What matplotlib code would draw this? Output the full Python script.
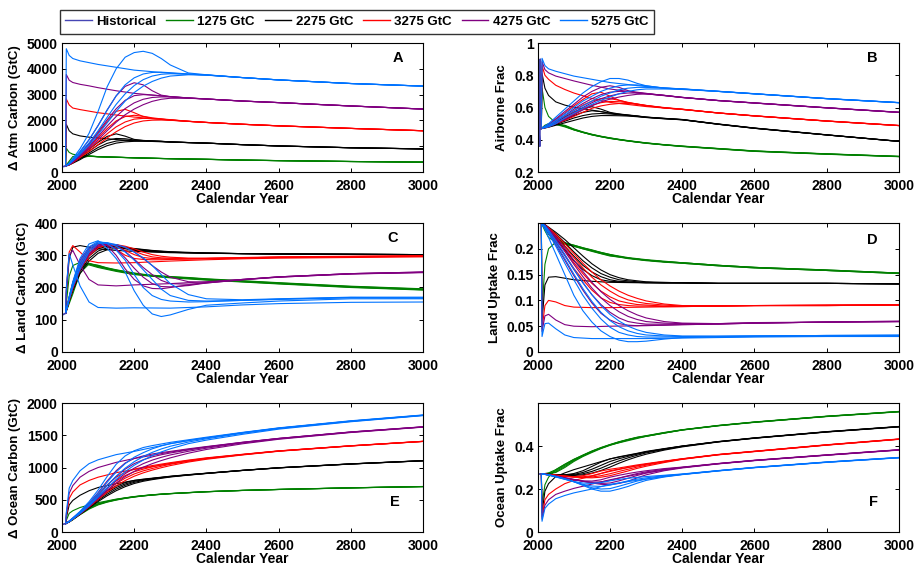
import matplotlib
matplotlib.use('Agg')
import matplotlib.pyplot as plt
from matplotlib.lines import Line2D

plt.rcParams['font.family'] = ['Liberation Sans', 'DejaVu Sans']
plt.rcParams['font.weight'] = 'bold'
plt.rcParams['font.size'] = 10
plt.rcParams['axes.labelweight'] = 'bold'

# ---------------- data ----------------
TOTALS = [1275, 2275, 3275, 4275, 5275]
LABELS = ['Historical', '1275 GtC', '2275 GtC', '3275 GtC', '4275 GtC', '5275 GtC']
COLORS = {1275: '#008000', 2275: '#000000', 3275: '#ff0000', 4275: '#800080', 5275: '#0073ff'}
HIST_COLOR = '#4646b4'

HIST_YEARS = [2000, 2003, 2006, 2007, 2008, 2010]
PULSE_YEARS = [2010, 2012, 2020, 2030, 2050, 2075, 2100, 2150, 2200, 2300, 2400, 2500, 2600, 2800, 3000]
RAMP_YEARS = [2010, 2020, 2030, 2050, 2075, 2100, 2125, 2150, 2175, 2200, 2225, 2250, 2275, 2300,
              2350, 2400, 2500, 2600, 2800, 3000]

# Panel A: change in atmospheric carbon (GtC)
HIST_ATM = [200, 210, 218, 221, 224, 230]
ATM_PULSE = {
    1275: [230, 920, 760, 690, 640, 610, 590, 570, 550, 515, 490, 460, 440, 405, 380],
    2275: [230, 1850, 1600, 1480, 1400, 1350, 1320, 1260, 1210, 1160, 1120, 1060, 1010, 940, 895],
    3275: [230, 2830, 2600, 2480, 2420, 2360, 2300, 2210, 2130, 2010, 1920, 1850, 1790, 1690, 1600],
    4275: [230, 3780, 3560, 3470, 3400, 3340, 3270, 3150, 3050, 2920, 2830, 2750, 2690, 2560, 2440],
    5275: [230, 4780, 4520, 4400, 4310, 4240, 4170, 4060, 3950, 3830, 3760, 3660, 3570, 3430, 3330],
}
ATM_RAMPS = {
    1275: [[230, 420, 600, 650, 615, 592, 580, 571, 561, 551, 541, 532, 523, 516, 502, 491, 462, 441, 407, 382],
           [230, 370, 500, 655, 618, 594, 582, 572, 562, 552, 542, 533, 524, 517, 503, 492, 463, 442, 408, 383],
           [230, 340, 440, 595, 620, 597, 584, 574, 563, 553, 543, 534, 525, 518, 504, 493, 463, 442, 408, 383],
           [230, 320, 400, 540, 615, 598, 586, 575, 564, 554, 544, 535, 526, 519, 505, 494, 464, 443, 409, 384]],
    2275: [[230, 300, 400, 600, 880, 1150, 1380, 1480, 1390, 1265, 1225, 1205, 1190, 1170, 1143, 1122, 1062, 1012, 942, 897],
           [230, 290, 380, 560, 810, 1050, 1230, 1300, 1290, 1242, 1220, 1205, 1190, 1168, 1142, 1121, 1061, 1011, 941, 896],
           [230, 280, 360, 520, 740, 950, 1110, 1200, 1230, 1225, 1212, 1202, 1187, 1166, 1141, 1120, 1060, 1010, 940, 895],
           [230, 275, 340, 480, 680, 870, 1020, 1120, 1170, 1190, 1195, 1193, 1183, 1164, 1140, 1119, 1060, 1010, 940, 895]],
    3275: [[230, 310, 420, 700, 1080, 1500, 1950, 2350, 2430, 2300, 2150, 2080, 2050, 2020, 1965, 1922, 1852, 1792, 1692, 1602],
           [230, 300, 400, 640, 960, 1320, 1680, 1980, 2150, 2200, 2160, 2100, 2060, 2030, 1968, 1923, 1852, 1791, 1691, 1601],
           [230, 290, 380, 600, 880, 1180, 1480, 1750, 1940, 2050, 2080, 2070, 2050, 2020, 1966, 1922, 1851, 1790, 1690, 1600],
           [230, 280, 360, 560, 800, 1060, 1320, 1560, 1760, 1900, 1980, 2010, 2015, 2005, 1962, 1921, 1850, 1790, 1690, 1600]],
    4275: [[230, 320, 450, 780, 1250, 1800, 2400, 2950, 3320, 3460, 3380, 3150, 2980, 2925, 2870, 2832, 2752, 2692, 2562, 2442],
           [230, 305, 420, 700, 1100, 1550, 2020, 2450, 2780, 2960, 3000, 2980, 2950, 2920, 2868, 2831, 2751, 2691, 2561, 2441],
           [230, 295, 400, 650, 1000, 1380, 1780, 2150, 2460, 2680, 2820, 2890, 2910, 2910, 2866, 2830, 2750, 2690, 2560, 2440],
           [230, 285, 380, 610, 920, 1250, 1600, 1930, 2220, 2440, 2610, 2740, 2820, 2860, 2860, 2829, 2750, 2690, 2560, 2440]],
    5275: [[230, 350, 520, 900, 1500, 2350, 3300, 4000, 4450, 4630, 4680, 4600, 4400, 4150, 3840, 3770, 3662, 3572, 3432, 3332],
           [230, 330, 480, 800, 1250, 1800, 2400, 2950, 3380, 3650, 3800, 3860, 3870, 3850, 3800, 3765, 3661, 3571, 3431, 3331],
           [230, 315, 450, 740, 1130, 1600, 2120, 2620, 3030, 3350, 3580, 3720, 3790, 3810, 3790, 3760, 3660, 3570, 3430, 3330],
           [230, 305, 430, 690, 1040, 1450, 1900, 2350, 2750, 3080, 3330, 3510, 3640, 3720, 3770, 3755, 3660, 3570, 3430, 3330]],
}

# Panel B: airborne fraction
HIST_AF = [0.47, 0.47, 0.36, 0.90, 0.47, 0.47]
AF_PULSE = {
    1275: [0.47, 0.72, 0.60, 0.545, 0.505, 0.485, 0.462, 0.43, 0.408, 0.378, 0.358, 0.343, 0.328, 0.31, 0.295],
    2275: [0.47, 0.81, 0.72, 0.675, 0.635, 0.615, 0.602, 0.584, 0.565, 0.54, 0.525, 0.497, 0.472, 0.43, 0.39],
    3275: [0.47, 0.86, 0.80, 0.775, 0.738, 0.712, 0.69, 0.656, 0.632, 0.606, 0.588, 0.566, 0.548, 0.516, 0.488],
    4275: [0.47, 0.885, 0.835, 0.815, 0.795, 0.78, 0.765, 0.738, 0.715, 0.685, 0.662, 0.643, 0.628, 0.598, 0.57],
    5275: [0.47, 0.905, 0.86, 0.84, 0.825, 0.81, 0.795, 0.775, 0.755, 0.73, 0.715, 0.70, 0.685, 0.655, 0.63],
}
AF_RAMPS = {
    1275: [[0.47, 0.49, 0.50, 0.495, 0.48, 0.461, 0.445, 0.431, 0.419, 0.409, 0.4, 0.392, 0.385, 0.379, 0.368, 0.359, 0.344, 0.329, 0.311, 0.296],
           [0.47, 0.485, 0.495, 0.50, 0.484, 0.463, 0.446, 0.432, 0.42, 0.41, 0.401, 0.393, 0.386, 0.38, 0.369, 0.36, 0.345, 0.33, 0.312, 0.296],
           [0.47, 0.48, 0.49, 0.50, 0.487, 0.465, 0.447, 0.433, 0.421, 0.411, 0.402, 0.394, 0.387, 0.38, 0.369, 0.36, 0.345, 0.33, 0.312, 0.297],
           [0.47, 0.478, 0.485, 0.495, 0.49, 0.467, 0.449, 0.434, 0.422, 0.412, 0.403, 0.395, 0.388, 0.381, 0.37, 0.361, 0.346, 0.331, 0.313, 0.297]],
    2275: [[0.47, 0.48, 0.49, 0.51, 0.54, 0.57, 0.595, 0.605, 0.59, 0.57, 0.56, 0.554, 0.548, 0.541, 0.533, 0.526, 0.498, 0.473, 0.431, 0.391],
           [0.47, 0.477, 0.485, 0.50, 0.525, 0.55, 0.57, 0.58, 0.575, 0.565, 0.558, 0.552, 0.547, 0.54, 0.532, 0.525, 0.497, 0.472, 0.43, 0.39],
           [0.47, 0.475, 0.48, 0.495, 0.515, 0.535, 0.55, 0.56, 0.563, 0.56, 0.555, 0.55, 0.545, 0.539, 0.531, 0.524, 0.496, 0.471, 0.43, 0.39],
           [0.47, 0.473, 0.478, 0.49, 0.505, 0.52, 0.535, 0.545, 0.55, 0.55, 0.549, 0.547, 0.543, 0.538, 0.53, 0.524, 0.496, 0.471, 0.43, 0.39]],
    3275: [[0.47, 0.482, 0.495, 0.525, 0.565, 0.61, 0.65, 0.685, 0.695, 0.67, 0.645, 0.63, 0.62, 0.61, 0.598, 0.589, 0.567, 0.549, 0.517, 0.489],
           [0.47, 0.48, 0.49, 0.515, 0.545, 0.58, 0.615, 0.64, 0.655, 0.655, 0.645, 0.632, 0.622, 0.612, 0.598, 0.589, 0.566, 0.548, 0.516, 0.488],
           [0.47, 0.477, 0.485, 0.505, 0.53, 0.56, 0.59, 0.615, 0.63, 0.638, 0.636, 0.63, 0.622, 0.613, 0.598, 0.588, 0.566, 0.548, 0.516, 0.488],
           [0.47, 0.475, 0.48, 0.50, 0.52, 0.545, 0.57, 0.595, 0.61, 0.62, 0.625, 0.625, 0.62, 0.613, 0.6, 0.59, 0.566, 0.548, 0.516, 0.488]],
    4275: [[0.47, 0.483, 0.495, 0.53, 0.575, 0.62, 0.665, 0.70, 0.725, 0.735, 0.725, 0.705, 0.69, 0.685, 0.675, 0.663, 0.644, 0.629, 0.599, 0.571],
           [0.47, 0.48, 0.49, 0.515, 0.55, 0.59, 0.625, 0.655, 0.68, 0.695, 0.70, 0.70, 0.695, 0.688, 0.675, 0.663, 0.643, 0.628, 0.598, 0.57],
           [0.47, 0.477, 0.485, 0.505, 0.535, 0.57, 0.60, 0.63, 0.655, 0.672, 0.685, 0.69, 0.69, 0.687, 0.675, 0.662, 0.643, 0.628, 0.598, 0.57],
           [0.47, 0.475, 0.48, 0.50, 0.525, 0.555, 0.585, 0.61, 0.635, 0.652, 0.665, 0.675, 0.682, 0.684, 0.676, 0.663, 0.643, 0.628, 0.598, 0.57]],
    5275: [[0.47, 0.485, 0.50, 0.54, 0.59, 0.64, 0.69, 0.73, 0.76, 0.78, 0.78, 0.77, 0.75, 0.735, 0.72, 0.716, 0.701, 0.686, 0.656, 0.631],
           [0.47, 0.48, 0.49, 0.52, 0.56, 0.60, 0.64, 0.67, 0.70, 0.72, 0.735, 0.74, 0.74, 0.735, 0.72, 0.715, 0.70, 0.685, 0.655, 0.63],
           [0.47, 0.478, 0.485, 0.51, 0.55, 0.58, 0.61, 0.64, 0.67, 0.69, 0.71, 0.72, 0.725, 0.725, 0.72, 0.714, 0.70, 0.685, 0.655, 0.63],
           [0.47, 0.475, 0.48, 0.50, 0.535, 0.565, 0.595, 0.62, 0.645, 0.665, 0.685, 0.70, 0.71, 0.715, 0.715, 0.712, 0.70, 0.685, 0.655, 0.63]],
}

# Panel C: change in land carbon (GtC)
HIST_LAND = [115, 116, 118, 118, 119, 120]
LAND_PULSE = {
    1275: [120, 150, 235, 268, 278, 270, 262, 250, 240, 230, 223, 217, 211, 200, 192],
    2275: [120, 180, 290, 325, 330, 325, 320, 315, 312, 308, 306, 305, 304, 303, 302],
    3275: [120, 190, 310, 330, 310, 283, 277, 276, 277, 282, 286, 289, 291, 293, 295],
    4275: [120, 190, 300, 315, 270, 225, 208, 205, 208, 212, 218, 225, 232, 242, 246],
    5275: [120, 200, 305, 270, 205, 155, 138, 136, 137, 136, 140, 146, 150, 154, 155],
}
LAND_RAMPS = {
    1275: [[120, 170, 215, 275, 272, 264, 258, 252, 247, 242, 238, 235, 233, 231, 228, 224, 218, 212, 201, 193],
           [120, 160, 200, 265, 274, 266, 259, 253, 248, 243, 239, 236, 234, 232, 229, 225, 219, 213, 202, 194],
           [120, 155, 190, 255, 275, 268, 260, 254, 249, 244, 240, 237, 235, 233, 230, 226, 220, 214, 203, 195],
           [120, 150, 180, 245, 273, 269, 261, 255, 250, 245, 241, 238, 236, 234, 231, 227, 221, 215, 204, 196]],
    2275: [[120, 165, 205, 265, 305, 325, 330, 327, 320, 315, 313, 311, 310, 309, 308, 306, 305, 304, 303, 302],
           [120, 162, 200, 258, 298, 320, 328, 328, 323, 318, 315, 312, 311, 309, 308, 307, 305, 304, 303, 302],
           [120, 160, 195, 250, 290, 313, 323, 326, 324, 320, 317, 314, 312, 310, 308, 307, 305, 304, 303, 302],
           [120, 158, 190, 243, 282, 306, 317, 322, 323, 321, 318, 315, 313, 311, 309, 307, 305, 304, 303, 302]],
    3275: [[120, 168, 210, 280, 320, 335, 332, 318, 300, 290, 287, 286, 286, 287, 288, 289, 291, 293, 295, 297],
           [120, 165, 205, 270, 313, 332, 335, 328, 315, 302, 293, 290, 289, 289, 289, 290, 292, 294, 296, 297],
           [120, 162, 200, 262, 305, 328, 334, 332, 324, 313, 302, 295, 292, 291, 290, 290, 292, 294, 296, 298],
           [120, 160, 196, 255, 298, 323, 332, 333, 328, 320, 310, 302, 297, 294, 291, 291, 293, 295, 297, 299]],
    4275: [[120, 170, 215, 285, 325, 338, 330, 300, 258, 225, 205, 197, 196, 200, 208, 215, 225, 233, 243, 247],
           [120, 167, 210, 275, 318, 335, 335, 320, 292, 260, 232, 212, 203, 202, 206, 214, 224, 232, 242, 247],
           [120, 164, 205, 265, 310, 332, 336, 330, 312, 288, 262, 240, 222, 212, 210, 214, 224, 233, 243, 248],
           [120, 162, 200, 255, 302, 328, 335, 333, 325, 310, 290, 268, 248, 232, 218, 216, 225, 233, 243, 248]],
    5275: [[120, 172, 218, 290, 335, 345, 322, 290, 248, 190, 145, 118, 110, 115, 132, 145, 152, 158, 165, 165],
           [120, 169, 212, 278, 326, 343, 336, 316, 285, 240, 200, 175, 163, 158, 155, 156, 160, 163, 168, 167],
           [120, 166, 207, 268, 318, 341, 339, 328, 310, 285, 255, 225, 195, 175, 160, 158, 160, 164, 169, 168],
           [120, 163, 202, 258, 310, 336, 339, 333, 325, 310, 292, 268, 240, 212, 178, 165, 162, 165, 170, 170]],
}

# Panel D: land uptake fraction
HIST_LF = [0.25, 0.25, 0.25, 0.25, 0.25, 0.25]
LF_PULSE = {
    1275: [0.25, 0.08, 0.17, 0.2, 0.213, 0.21, 0.205, 0.195, 0.186, 0.178, 0.172, 0.167, 0.163, 0.158, 0.152],
    2275: [0.25, 0.06, 0.13, 0.145, 0.146, 0.143, 0.14, 0.137, 0.135, 0.134, 0.134, 0.133, 0.133, 0.133, 0.132],
    3275: [0.25, 0.045, 0.09, 0.1, 0.097, 0.09, 0.087, 0.086, 0.086, 0.087, 0.088, 0.089, 0.09, 0.09, 0.091],
    4275: [0.25, 0.04, 0.07, 0.073, 0.062, 0.053, 0.05, 0.049, 0.05, 0.051, 0.053, 0.054, 0.056, 0.058, 0.059],
    5275: [0.25, 0.03, 0.055, 0.056, 0.045, 0.033, 0.028, 0.026, 0.026, 0.026, 0.027, 0.028, 0.029, 0.03, 0.03],
}
LF_RAMPS = {
    1275: [[0.25, 0.235, 0.222, 0.213, 0.209, 0.205, 0.2, 0.196, 0.191, 0.187, 0.184, 0.181, 0.179, 0.177, 0.174, 0.172, 0.167, 0.163, 0.158, 0.152],
           [0.25, 0.24, 0.228, 0.215, 0.21, 0.206, 0.201, 0.197, 0.192, 0.188, 0.185, 0.182, 0.18, 0.178, 0.175, 0.173, 0.168, 0.164, 0.158, 0.153],
           [0.25, 0.242, 0.232, 0.218, 0.211, 0.207, 0.202, 0.197, 0.193, 0.189, 0.185, 0.182, 0.18, 0.178, 0.175, 0.173, 0.168, 0.164, 0.159, 0.153],
           [0.25, 0.244, 0.235, 0.22, 0.212, 0.207, 0.202, 0.198, 0.193, 0.189, 0.186, 0.183, 0.181, 0.179, 0.176, 0.173, 0.168, 0.164, 0.159, 0.153]],
    2275: [[0.25, 0.243, 0.235, 0.22, 0.198, 0.177, 0.16, 0.148, 0.14, 0.137, 0.136, 0.135, 0.135, 0.134, 0.134, 0.134, 0.133, 0.133, 0.133, 0.132],
           [0.25, 0.245, 0.238, 0.225, 0.205, 0.186, 0.168, 0.155, 0.146, 0.14, 0.137, 0.136, 0.135, 0.135, 0.134, 0.134, 0.133, 0.133, 0.133, 0.132],
           [0.25, 0.246, 0.24, 0.229, 0.212, 0.194, 0.177, 0.163, 0.152, 0.145, 0.14, 0.138, 0.136, 0.135, 0.134, 0.134, 0.133, 0.133, 0.133, 0.132],
           [0.25, 0.247, 0.242, 0.232, 0.218, 0.202, 0.186, 0.171, 0.159, 0.15, 0.144, 0.14, 0.138, 0.136, 0.135, 0.134, 0.133, 0.133, 0.133, 0.132]],
    3275: [[0.25, 0.242, 0.232, 0.213, 0.188, 0.162, 0.14, 0.12, 0.105, 0.096, 0.092, 0.09, 0.089, 0.089, 0.088, 0.088, 0.089, 0.09, 0.09, 0.091],
           [0.25, 0.244, 0.236, 0.219, 0.196, 0.173, 0.152, 0.133, 0.118, 0.107, 0.099, 0.095, 0.092, 0.091, 0.089, 0.089, 0.089, 0.09, 0.09, 0.091],
           [0.25, 0.245, 0.239, 0.224, 0.204, 0.183, 0.163, 0.145, 0.13, 0.118, 0.108, 0.101, 0.097, 0.094, 0.091, 0.089, 0.089, 0.09, 0.091, 0.091],
           [0.25, 0.246, 0.241, 0.228, 0.21, 0.191, 0.172, 0.155, 0.14, 0.128, 0.118, 0.11, 0.104, 0.099, 0.093, 0.09, 0.09, 0.09, 0.091, 0.092]],
    4275: [[0.25, 0.242, 0.23, 0.208, 0.178, 0.148, 0.12, 0.095, 0.075, 0.062, 0.055, 0.052, 0.051, 0.052, 0.052, 0.053, 0.054, 0.056, 0.058, 0.059],
           [0.25, 0.244, 0.234, 0.214, 0.187, 0.16, 0.134, 0.111, 0.092, 0.077, 0.066, 0.059, 0.056, 0.054, 0.054, 0.054, 0.055, 0.056, 0.058, 0.059],
           [0.25, 0.245, 0.237, 0.219, 0.195, 0.17, 0.146, 0.124, 0.105, 0.09, 0.078, 0.069, 0.063, 0.059, 0.056, 0.055, 0.055, 0.056, 0.058, 0.059],
           [0.25, 0.246, 0.239, 0.223, 0.201, 0.178, 0.156, 0.135, 0.117, 0.102, 0.09, 0.08, 0.072, 0.066, 0.059, 0.056, 0.055, 0.057, 0.058, 0.06]],
    5275: [[0.25, 0.238, 0.222, 0.19, 0.15, 0.11, 0.08, 0.058, 0.041, 0.03, 0.023, 0.02, 0.02, 0.021, 0.025, 0.028, 0.029, 0.03, 0.031, 0.031],
           [0.25, 0.242, 0.23, 0.205, 0.172, 0.14, 0.11, 0.085, 0.064, 0.048, 0.038, 0.033, 0.03, 0.029, 0.029, 0.029, 0.03, 0.031, 0.032, 0.032],
           [0.25, 0.244, 0.233, 0.211, 0.181, 0.151, 0.123, 0.098, 0.077, 0.061, 0.049, 0.041, 0.036, 0.033, 0.031, 0.03, 0.03, 0.031, 0.032, 0.032],
           [0.25, 0.245, 0.236, 0.216, 0.189, 0.161, 0.135, 0.111, 0.09, 0.073, 0.06, 0.05, 0.043, 0.038, 0.033, 0.031, 0.031, 0.031, 0.032, 0.033]],
}

# Panel E: change in ocean carbon (GtC)
HIST_OCEAN = [118, 121, 125, 126, 127, 130]
OCEAN_PULSE = {
    1275: [130, 180, 290, 330, 380, 420, 455, 510, 550, 595, 625, 645, 660, 685, 705],
    2275: [130, 220, 420, 490, 570, 640, 690, 750, 800, 860, 910, 955, 995, 1055, 1105],
    3275: [130, 250, 520, 620, 730, 800, 850, 920, 970, 1060, 1140, 1200, 1255, 1335, 1405],
    4275: [130, 280, 600, 720, 850, 940, 1000, 1080, 1140, 1240, 1320, 1390, 1450, 1550, 1630],
    5275: [130, 300, 680, 800, 950, 1060, 1120, 1200, 1250, 1370, 1460, 1540, 1610, 1720, 1810],
}
OCEAN_RAMPS = {
    1275: [[130, 160, 205, 300, 385, 440, 475, 505, 528, 548, 565, 578, 588, 597, 612, 626, 646, 661, 686, 706],
           [130, 158, 198, 285, 375, 435, 472, 502, 526, 546, 563, 577, 587, 596, 611, 625, 645, 660, 685, 705],
           [130, 156, 193, 275, 365, 428, 468, 499, 524, 544, 561, 575, 586, 595, 610, 625, 645, 660, 685, 705],
           [130, 155, 190, 268, 355, 420, 463, 495, 521, 542, 559, 574, 585, 594, 609, 624, 644, 659, 684, 704]],
    2275: [[130, 165, 208, 295, 410, 535, 640, 715, 765, 800, 820, 835, 850, 865, 890, 912, 957, 997, 1057, 1107],
           [130, 162, 203, 287, 395, 510, 610, 690, 745, 785, 810, 830, 846, 862, 888, 911, 956, 996, 1056, 1106],
           [130, 160, 200, 280, 383, 490, 585, 665, 725, 770, 800, 822, 840, 858, 885, 909, 955, 995, 1055, 1105],
           [130, 158, 196, 274, 372, 472, 562, 640, 703, 752, 787, 812, 833, 853, 882, 907, 954, 994, 1054, 1104]],
    3275: [[130, 168, 212, 305, 435, 580, 730, 850, 925, 975, 1005, 1030, 1053, 1075, 1115, 1150, 1205, 1258, 1338, 1407],
           [130, 164, 206, 295, 415, 550, 680, 790, 875, 935, 975, 1010, 1040, 1065, 1108, 1145, 1203, 1257, 1337, 1406],
           [130, 161, 202, 287, 400, 525, 645, 750, 835, 900, 948, 985, 1020, 1050, 1098, 1138, 1200, 1255, 1336, 1405],
           [130, 159, 198, 280, 388, 505, 617, 715, 798, 865, 917, 960, 997, 1030, 1085, 1128, 1195, 1252, 1334, 1404]],
    4275: [[130, 170, 215, 310, 450, 610, 790, 950, 1070, 1140, 1180, 1210, 1232, 1250, 1290, 1325, 1392, 1452, 1552, 1632],
           [130, 165, 208, 298, 425, 570, 720, 860, 975, 1060, 1120, 1165, 1198, 1225, 1272, 1315, 1388, 1450, 1550, 1630],
           [130, 162, 203, 290, 408, 540, 675, 800, 905, 990, 1060, 1115, 1158, 1195, 1252, 1300, 1380, 1445, 1547, 1628],
           [130, 160, 199, 283, 395, 520, 645, 760, 860, 940, 1005, 1060, 1108, 1150, 1222, 1280, 1368, 1438, 1543, 1626]],
    5275: [[130, 170, 220, 320, 470, 650, 860, 1050, 1180, 1260, 1310, 1340, 1365, 1390, 1430, 1470, 1545, 1615, 1725, 1815],
           [130, 165, 210, 305, 440, 600, 770, 930, 1060, 1160, 1230, 1290, 1335, 1370, 1420, 1460, 1540, 1610, 1720, 1812],
           [130, 162, 205, 295, 420, 565, 720, 865, 990, 1090, 1170, 1235, 1288, 1330, 1395, 1445, 1530, 1605, 1715, 1808],
           [130, 160, 200, 288, 405, 540, 680, 815, 935, 1035, 1115, 1185, 1242, 1290, 1370, 1425, 1515, 1595, 1710, 1805]],
}

# Panel F: ocean uptake fraction
HIST_OF = [0.27, 0.27, 0.27, 0.27, 0.27, 0.27]
OF_PULSE = {
    1275: [0.27, 0.13, 0.22, 0.255, 0.29, 0.315, 0.338, 0.375, 0.405, 0.445, 0.475, 0.495, 0.511, 0.538, 0.56],
    2275: [0.27, 0.09, 0.19, 0.225, 0.258, 0.275, 0.29, 0.315, 0.34, 0.373, 0.4, 0.42, 0.437, 0.466, 0.49],
    3275: [0.27, 0.07, 0.15, 0.175, 0.2, 0.225, 0.24, 0.26, 0.285, 0.316, 0.34, 0.36, 0.375, 0.405, 0.432],
    4275: [0.27, 0.06, 0.125, 0.15, 0.175, 0.19, 0.203, 0.223, 0.243, 0.276, 0.3, 0.318, 0.333, 0.358, 0.382],
    5275: [0.27, 0.05, 0.11, 0.13, 0.155, 0.17, 0.182, 0.2, 0.222, 0.247, 0.268, 0.285, 0.3, 0.325, 0.346],
}
OF_RAMPS = {
    1275: [[0.27, 0.272, 0.275, 0.29, 0.315, 0.338, 0.358, 0.377, 0.393, 0.407, 0.42, 0.431, 0.441, 0.448, 0.463, 0.476, 0.496, 0.512, 0.539, 0.561],
           [0.27, 0.271, 0.273, 0.285, 0.31, 0.335, 0.356, 0.375, 0.392, 0.406, 0.419, 0.43, 0.44, 0.447, 0.462, 0.475, 0.495, 0.511, 0.538, 0.56],
           [0.27, 0.27, 0.272, 0.28, 0.305, 0.332, 0.354, 0.373, 0.39, 0.405, 0.418, 0.429, 0.439, 0.446, 0.461, 0.475, 0.495, 0.511, 0.538, 0.56],
           [0.27, 0.27, 0.271, 0.277, 0.30, 0.328, 0.351, 0.37, 0.388, 0.403, 0.416, 0.428, 0.438, 0.445, 0.46, 0.474, 0.494, 0.51, 0.537, 0.559]],
    2275: [[0.27, 0.268, 0.267, 0.265, 0.266, 0.272, 0.285, 0.305, 0.325, 0.34, 0.35, 0.358, 0.366, 0.375, 0.388, 0.4, 0.421, 0.438, 0.467, 0.491],
           [0.27, 0.269, 0.268, 0.266, 0.265, 0.268, 0.277, 0.292, 0.31, 0.328, 0.341, 0.352, 0.362, 0.372, 0.386, 0.399, 0.42, 0.437, 0.466, 0.49],
           [0.27, 0.269, 0.268, 0.266, 0.264, 0.265, 0.271, 0.282, 0.297, 0.315, 0.331, 0.345, 0.357, 0.368, 0.384, 0.398, 0.42, 0.437, 0.466, 0.49],
           [0.27, 0.27, 0.269, 0.267, 0.264, 0.263, 0.266, 0.274, 0.286, 0.302, 0.32, 0.336, 0.35, 0.362, 0.381, 0.396, 0.419, 0.436, 0.465, 0.489]],
    3275: [[0.27, 0.268, 0.266, 0.262, 0.258, 0.257, 0.262, 0.272, 0.284, 0.292, 0.298, 0.305, 0.312, 0.318, 0.33, 0.341, 0.361, 0.376, 0.406, 0.433],
           [0.27, 0.269, 0.267, 0.263, 0.259, 0.256, 0.257, 0.262, 0.272, 0.282, 0.291, 0.3, 0.308, 0.315, 0.328, 0.34, 0.36, 0.375, 0.405, 0.432],
           [0.27, 0.269, 0.267, 0.264, 0.26, 0.256, 0.254, 0.256, 0.262, 0.271, 0.282, 0.292, 0.302, 0.311, 0.326, 0.339, 0.36, 0.375, 0.405, 0.432],
           [0.27, 0.27, 0.268, 0.265, 0.261, 0.257, 0.253, 0.252, 0.255, 0.262, 0.273, 0.284, 0.296, 0.306, 0.323, 0.338, 0.359, 0.374, 0.404, 0.431]],
    4275: [[0.27, 0.268, 0.265, 0.258, 0.25, 0.243, 0.238, 0.237, 0.243, 0.255, 0.264, 0.272, 0.279, 0.285, 0.295, 0.302, 0.319, 0.334, 0.359, 0.383],
           [0.27, 0.268, 0.266, 0.259, 0.251, 0.243, 0.236, 0.232, 0.233, 0.24, 0.251, 0.262, 0.272, 0.28, 0.292, 0.301, 0.318, 0.333, 0.358, 0.382],
           [0.27, 0.269, 0.266, 0.26, 0.252, 0.244, 0.236, 0.229, 0.226, 0.228, 0.238, 0.25, 0.263, 0.274, 0.289, 0.3, 0.318, 0.333, 0.358, 0.382],
           [0.27, 0.269, 0.267, 0.261, 0.253, 0.245, 0.236, 0.228, 0.222, 0.22, 0.226, 0.236, 0.252, 0.266, 0.285, 0.298, 0.317, 0.332, 0.357, 0.381]],
    5275: [[0.27, 0.268, 0.265, 0.256, 0.245, 0.235, 0.228, 0.226, 0.23, 0.238, 0.245, 0.25, 0.254, 0.258, 0.264, 0.27, 0.286, 0.301, 0.326, 0.347],
           [0.27, 0.268, 0.265, 0.257, 0.246, 0.234, 0.222, 0.214, 0.212, 0.218, 0.228, 0.238, 0.246, 0.252, 0.262, 0.269, 0.285, 0.3, 0.325, 0.346],
           [0.27, 0.269, 0.266, 0.258, 0.247, 0.234, 0.219, 0.206, 0.2, 0.202, 0.213, 0.225, 0.237, 0.246, 0.259, 0.268, 0.285, 0.3, 0.325, 0.346],
           [0.27, 0.269, 0.266, 0.259, 0.248, 0.234, 0.217, 0.2, 0.19, 0.19, 0.2, 0.212, 0.227, 0.24, 0.256, 0.267, 0.284, 0.299, 0.324, 0.345]],
}

XTICKS = [2000, 2200, 2400, 2600, 2800, 3000]

PANELS = [
    dict(letter='A', hist=HIST_ATM, pulse=ATM_PULSE, ramps=ATM_RAMPS, ylim=(0, 5000),
         yticks=[0, 1000, 2000, 3000, 4000, 5000], yticklabels=['0', '1000', '2000', '3000', '4000', '5000'],
         ylabel='\u0394 Atm Carbon (GtC)', pos=[0.0678, 0.695, 0.395, 0.2287], lpos=(0.93, 0.885)),
    dict(letter='B', hist=HIST_AF, pulse=AF_PULSE, ramps=AF_RAMPS, ylim=(0.2, 1.0),
         yticks=[0.2, 0.4, 0.6, 0.8, 1.0], yticklabels=['0.2', '0.4', '0.6', '0.8', '1'],
         ylabel='Airborne Frac', pos=[0.5883, 0.695, 0.3953, 0.2287], lpos=(0.926, 0.885)),
    dict(letter='C', hist=HIST_LAND, pulse=LAND_PULSE, ramps=LAND_RAMPS, ylim=(0, 400),
         yticks=[0, 100, 200, 300, 400], yticklabels=['0', '100', '200', '300', '400'],
         ylabel='\u0394 Land Carbon (GtC)', pos=[0.0678, 0.3759, 0.395, 0.2287], lpos=(0.917, 0.88)),
    dict(letter='D', hist=HIST_LF, pulse=LF_PULSE, ramps=LF_RAMPS, ylim=(0, 0.25),
         yticks=[0, 0.05, 0.1, 0.15, 0.2], yticklabels=['0', '0.05', '0.1', '0.15', '0.2'],
         ylabel='Land Uptake Frac', pos=[0.5883, 0.3759, 0.3953, 0.2287], lpos=(0.925, 0.87)),
    dict(letter='E', hist=HIST_OCEAN, pulse=OCEAN_PULSE, ramps=OCEAN_RAMPS, ylim=(0, 2000),
         yticks=[0, 500, 1000, 1500, 2000], yticklabels=['0', '500', '1000', '1500', '2000'],
         ylabel='\u0394 Ocean Carbon (GtC)', pos=[0.0678, 0.0567, 0.395, 0.2287], lpos=(0.922, 0.23)),
    dict(letter='F', hist=HIST_OF, pulse=OF_PULSE, ramps=OF_RAMPS, ylim=(0, 0.6),
         yticks=[0, 0.2, 0.4], yticklabels=['0', '0.2', '0.4'],
         ylabel='Ocean Uptake Frac', pos=[0.5883, 0.0567, 0.3953, 0.2287], lpos=(0.929, 0.23)),
]

# ---------------- figure ----------------
fig = plt.figure(figsize=(9.14, 5.64), dpi=100)
LW = 0.8

for p in PANELS:
    ax = fig.add_axes(p['pos'])
    for tot in TOTALS:
        c = COLORS[tot]
        for r in p['ramps'][tot]:
            ax.plot(RAMP_YEARS, r, color=c, lw=LW, solid_joinstyle='round')
        ax.plot(PULSE_YEARS, p['pulse'][tot], color=c, lw=LW, solid_joinstyle='round')
    ax.plot(HIST_YEARS, p['hist'], color=HIST_COLOR, lw=1.2)
    ax.set_xlim(2000, 3000)
    ax.set_ylim(*p['ylim'])
    ax.set_xticks(XTICKS)
    ax.set_xticklabels([str(x) for x in XTICKS], fontweight='bold')
    ax.set_yticks(p['yticks'])
    ax.set_yticklabels(p['yticklabels'], fontweight='bold')
    ax.tick_params(direction='in', length=3, width=0.7, top=True, right=True, labelsize=10)
    ax.tick_params(axis='x', pad=5)
    ax.tick_params(axis='y', pad=3)
    for s in ax.spines.values():
        s.set_linewidth(0.8)
    ax.set_xlabel('Calendar Year', fontweight='bold', fontsize=10, labelpad=-1)
    ax.set_ylabel(p['ylabel'], fontweight='bold', fontsize=9.5, labelpad=4)
    ax.text(p['lpos'][0], p['lpos'][1], p['letter'], transform=ax.transAxes,
            fontsize=10.5, fontweight='bold', ha='center', va='center')

handles = [Line2D([], [], color=HIST_COLOR, lw=1.0)] + [Line2D([], [], color=COLORS[t], lw=1.0) for t in TOTALS]
leg = fig.legend(handles, LABELS, loc='center', bbox_to_anchor=(0.3905, 0.961), ncol=6,
                 frameon=True, fancybox=False, edgecolor='black', handlelength=2.0,
                 handletextpad=0.35, columnspacing=0.75, borderpad=0.42,
                 prop={'weight': 'bold', 'size': 9.5})
leg.get_frame().set_linewidth(1.0)

fig.savefig('out.png', dpi=100)
